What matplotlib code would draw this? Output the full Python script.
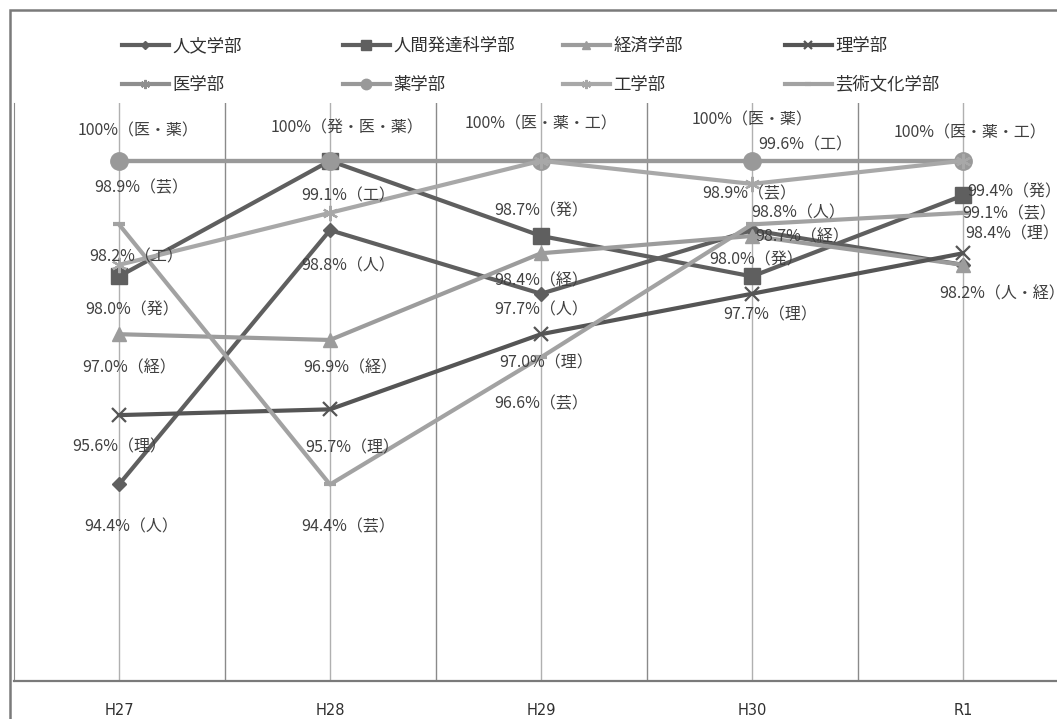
import matplotlib.pyplot as plt

plt.rcParams['font.family'] = ['Noto Sans CJK JP', 'DejaVu Sans']

# --- data ---
years = ['H27', 'H28', 'H29', 'H30', 'R1']
faculties = ['人文学部', '人間発達科学部', '経済学部', '理学部',
             '医学部', '薬学部', '工学部', '芸術文化学部']

jinbun = [94.4, 98.8, 97.7, 98.8, 98.2]
hattatsu = [98.0, 100.0, 98.7, 98.0, 99.4]
keizai = [97.0, 96.9, 98.4, 98.7, 98.2]
rigaku = [95.6, 95.7, 97.0, 97.7, 98.4]
igaku = [100.0, 100.0, 100.0, 100.0, 100.0]
yakugaku = [100.0, 100.0, 100.0, 100.0, 100.0]
kogaku = [98.2, 99.1, 100.0, 99.6, 100.0]
geijutsu = [98.9, 94.4, 96.6, 98.9, 99.1]

series = [jinbun, hattatsu, keizai, rigaku, igaku, yakugaku, kogaku, geijutsu]

# data labels: (year index, value, text)
labels = [
    (0, 100.0, '100%（医・薬）'), (0, 98.9, '98.9%（芸）'), (0, 98.2, '98.2%（工）'),
    (0, 98.0, '98.0%（発）'), (0, 97.0, '97.0%（経）'), (0, 95.6, '95.6%（理）'),
    (0, 94.4, '94.4%（人）'),
    (1, 100.0, '100%（発・医・薬）'), (1, 99.1, '99.1%（工）'), (1, 98.8, '98.8%（人）'),
    (1, 96.9, '96.9%（経）'), (1, 95.7, '95.7%（理）'), (1, 94.4, '94.4%（芸）'),
    (2, 100.0, '100%（医・薬・工）'), (2, 98.7, '98.7%（発）'), (2, 98.4, '98.4%（経）'),
    (2, 97.7, '97.7%（人）'), (2, 97.0, '97.0%（理）'), (2, 96.6, '96.6%（芸）'),
    (3, 100.0, '100%（医・薬）'), (3, 99.6, '99.6%（工）'), (3, 98.9, '98.9%（芸）'),
    (3, 98.8, '98.8%（人）'), (3, 98.7, '98.7%（経）'), (3, 98.0, '98.0%（発）'),
    (3, 97.7, '97.7%（理）'),
    (4, 100.0, '100%（医・薬・工）'), (4, 99.4, '99.4%（発）'), (4, 99.1, '99.1%（芸）'),
    (4, 98.4, '98.4%（理）'), (4, 98.2, '98.2%（人・経）'),
]
# label offsets in pixels (dx, dy up)
label_offsets = [
    (19, 30), (22, 37), (17, 8), (13, -34), (10, -34), (0, -32), (12, -42),
    (17, 33), (18, 17), (18, -36), (20, -28), (22, -39), (18, -42),
    (0, 37), (0, 25), (0, -28), (0, -16), (5, -29), (0, -46),
    (0, 41), (53, 39), (-3, 31), (46, 17), (50, -1), (4, 16), (18, -21),
    (7, 28), (51, 4), (46, -1), (49, 19), (39, -29),
]

styles = [
    dict(color='#5f5f5f', marker='D', ms=7.5),
    dict(color='#5f5f5f', marker='s', ms=11),
    dict(color='#9c9c9c', marker='^', ms=10.5),
    dict(color='#555555', marker='x', ms=10, mew=1.6),
    dict(color='#8e8e8e', marker=(6, 2, 0), ms=11, mew=1.6),
    dict(color='#999999', marker='o', ms=12.5),
    dict(color='#a8a8a8', marker=(6, 2, 0), ms=11, mew=1.6),
    dict(color='#a2a2a2', marker='_', ms=8, mew=3),
]

W, H = 1057, 719
fig = plt.figure(figsize=(W / 100, H / 100), dpi=100)

# outer chart frame
fig.add_artist(plt.Rectangle((10 / W, -0.1), 1.2, 1 - 10 / H + 0.1, transform=fig.transFigure,
                             fill=False, ec='#7a7a7a', lw=1.8))

ax = fig.add_axes([13.5 / W, (H - 681) / H, 1055 / W, 578 / H])
x = list(range(len(years)))
handles = []
for vals, name, st in zip(series, faculties, styles):
    ln, = ax.plot(x, vals, lw=3, label=name, mec=st['color'], clip_on=False, **st)
    handles.append(ln)

for (i, v, t), (dx, dy) in zip(labels, label_offsets):
    ax.annotate(t, xy=(i, v), xytext=(dx, dy), textcoords='offset pixels',
                ha='center', va='center', fontsize=11.5, color='#404040', annotation_clip=False)

ax.set_xlim(-0.5, 4.5)
ax.set_ylim(91, 101)
ax.set_yticks([])
ax.set_xticks(x)
ax.set_xticklabels(years, fontsize=10.5, color='#303030', family='DejaVu Sans')
ax.set_xticks([0.5, 1.5, 2.5, 3.5], minor=True)
ax.tick_params(axis='x', which='both', length=0, pad=16)
ax.grid(axis='x', which='major', color='#b0b0b0', lw=1)
ax.grid(axis='x', which='minor', color='#8a8a8a', lw=1)
ax.set_axisbelow(True)
for side in ['top', 'right']:
    ax.spines[side].set_visible(False)
ax.spines['left'].set_color('#8a8a8a')
ax.spines['bottom'].set_color('#7a7a7a')
ax.spines['bottom'].set_linewidth(1.6)

# legend: four columns of two entries each
col_x = [122, 343, 563, 785]
for c in range(4):
    fig.legend(handles=[handles[c], handles[c + 4]], loc='upper left',
               bbox_to_anchor=(col_x[c] / W, 1 - 37 / H), frameon=False,
               fontsize=12.5, handlelength=2.7, handletextpad=0.2,
               labelspacing=1.2, borderpad=0, borderaxespad=0, markerscale=0.6,
               labelcolor='#303030')

fig.savefig('out.png', dpi=100)
